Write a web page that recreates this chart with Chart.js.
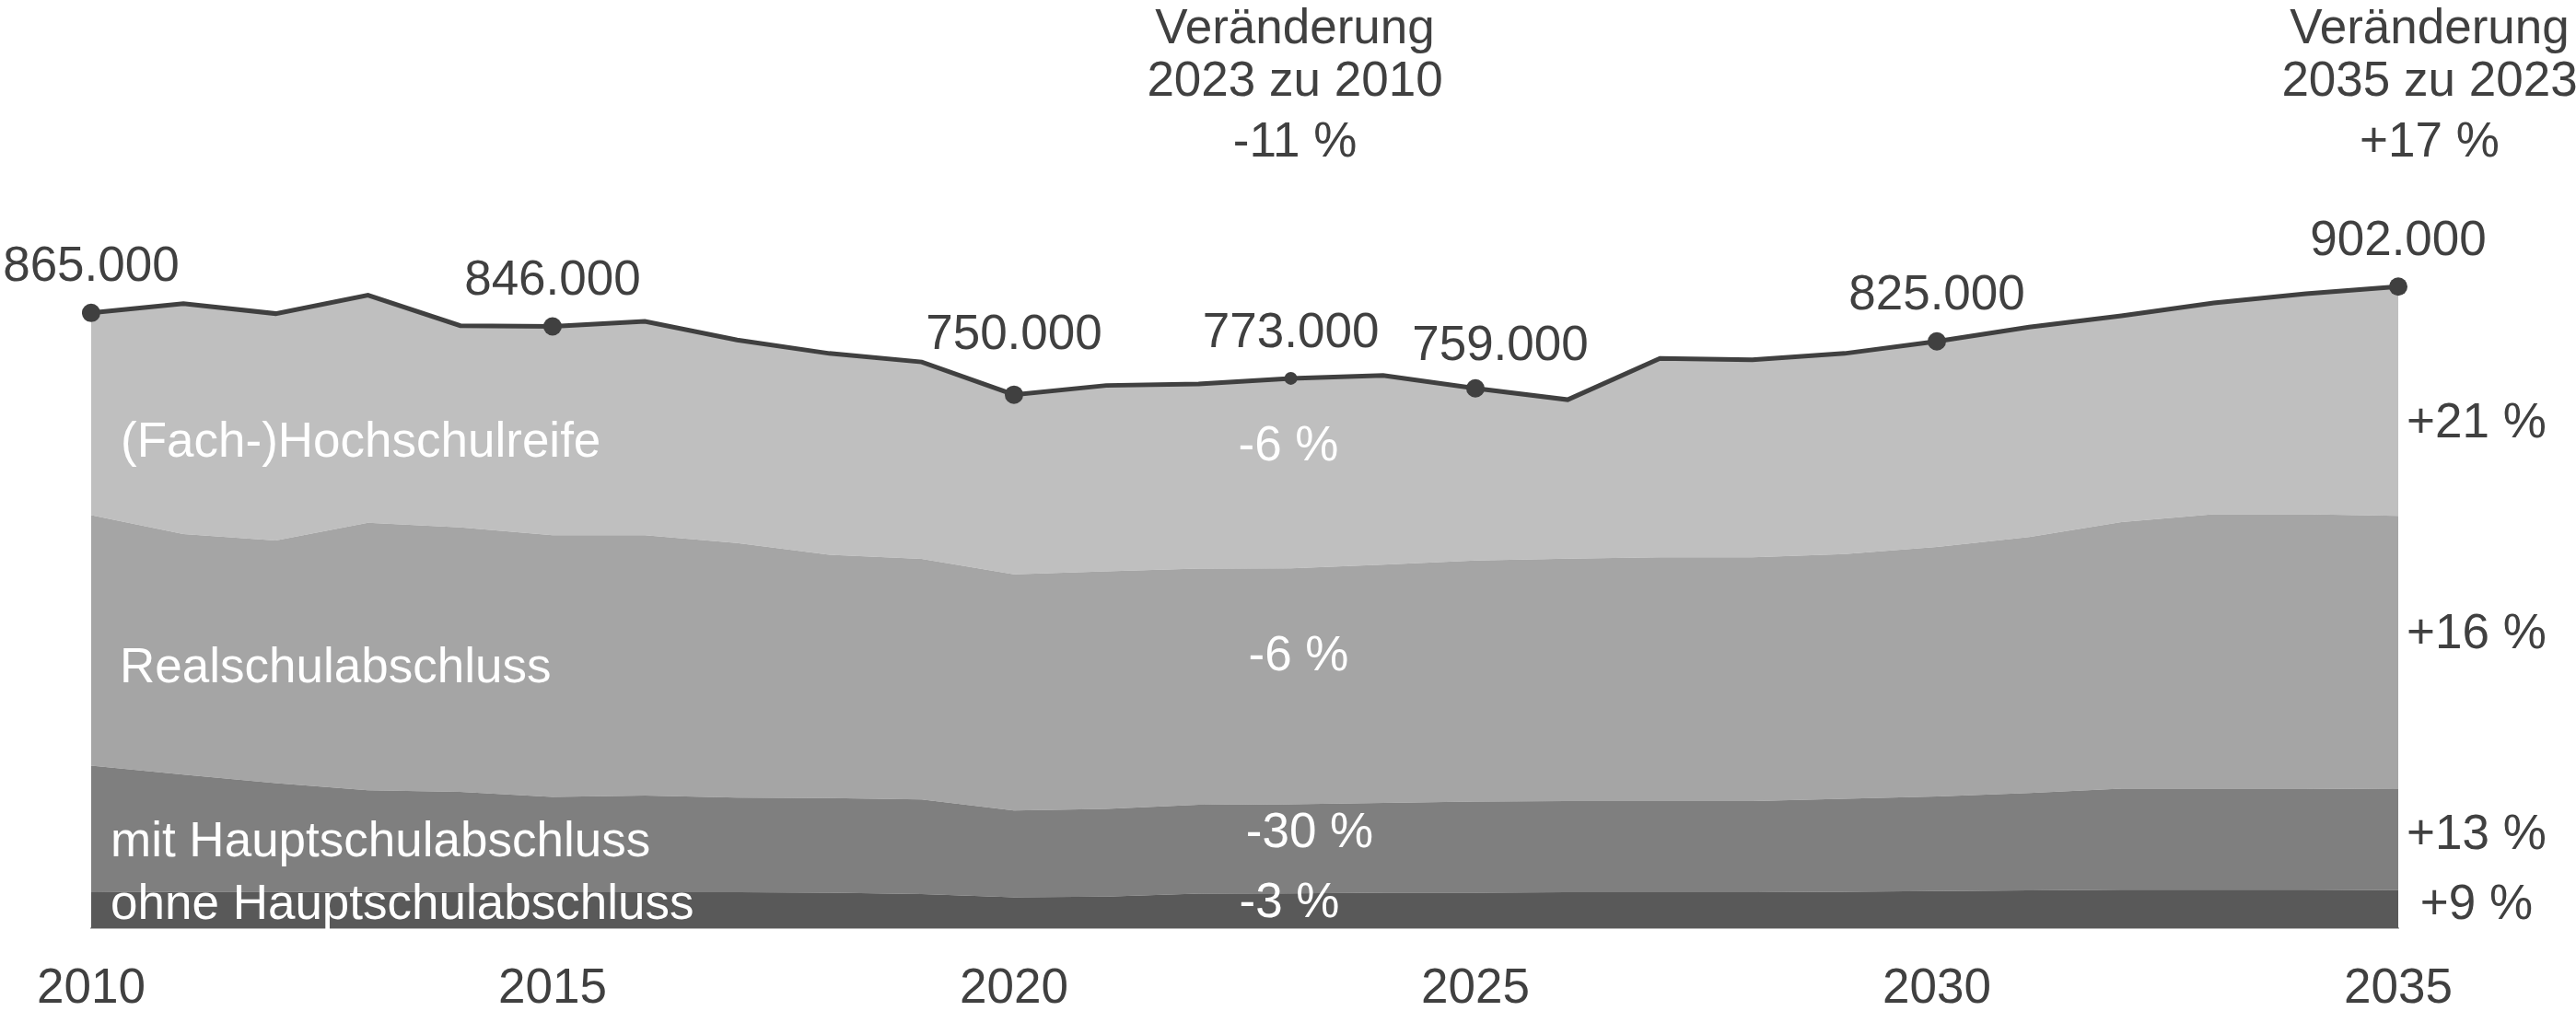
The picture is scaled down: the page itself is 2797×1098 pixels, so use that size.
<!DOCTYPE html>
<html lang="de">
<head>
<meta charset="utf-8">
<script src="https://cdn.jsdelivr.net/npm/chart.js@4.4.1/dist/chart.umd.min.js"></script>
<style>
  html, body { margin: 0; padding: 0; background: #fff; }
</style>
</head>
<body>
<canvas id="myChart" width="2797" height="1098"></canvas>
<script>
// Schulabgänger nach Abschluss, in Tausend
const years = ["2010","2011","2012","2013","2014","2015","2016","2017","2018","2019","2020","2021","2022",
               "2023","2024","2025","2026","2027","2028","2029","2030","2031","2032","2033","2034","2035"];
const tickYears = ["2010","2015","2020","2025","2030","2035"];

const ohneHS = [50.5,51,51,51,50.5,50.5,50.5,50.5,50,48,43.5,44.5,48.5,49,50,50,50.5,50.5,50.5,51,52,53,54,54,54,53.5];
const mitHS  = [178,165,153,143,141,134,136,133,133,133,122,123,125,125,126,128,128,128,128,131,133,137,142,142,142,142];
const realS  = [352,338,341,376,372,368,366,358,342,338,332,334,332,332,335,339,341,343,343,344,351,360,375,386,386,384];
const hochS  = [284.5,324,319,320,283.5,293.5,300.5,285.5,283,277,252.5,261.5,259.5,267,266,242,223.5,279.5,277.5,282,289,295,290,297,310,322.5];
const gesamt = [865,878,864,890,847,846,853,827,808,796,750,763,765,773,777,759,743,801,799,808,825,845,861,879,892,902];

const markYears = ["2010","2015","2020","2023","2025","2030","2035"];
const groupNames = ["ohne Hauptschulabschluss","mit Hauptschulabschluss","Realschulabschluss","(Fach-)Hochschulreife"];
const change2023 = ["-3 %","-30 %","-6 %","-6 %"];
const change2035 = ["+9 %","+13 %","+16 %","+21 %"];
const titleLeft = ["Veränderung","2023 zu 2010","-11 %"];
const titleRight = ["Veränderung","2035 zu 2023","+17 %"];

const FONT = '"Liberation Sans", Arial, sans-serif';
const DARK = "#404040";

const texte = {
  id: "texte",
  afterDatasetsDraw(chart) {
    const ctx = chart.ctx;
    const xs = chart.scales.x, ys = chart.scales.y;
    ctx.save();
    ctx.font = "53px " + FONT;
    ctx.textBaseline = "middle";

    // Werte an der Gesamtlinie
    ctx.textAlign = "center";
    ctx.fillStyle = DARK;
    const shift = { "2020": [0, 64], "2025": [27, 45] };
    markYears.forEach(function (yr) {
      const i = years.indexOf(yr);
      const s = shift[yr] || [0, 49];
      const px = xs.getPixelForValue(i) + s[0];
      const py = ys.getPixelForValue(gesamt[i]) - s[1];
      ctx.fillText(gesamt[i] + ".000", px, py);
    });

    // Überschriften
    const ty = [32, 89, 155];
    titleLeft.forEach(function (t, k) { ctx.fillText(t, 1406, ty[k]); });
    titleRight.forEach(function (t, k) { ctx.fillText(t, 2638, ty[k]); });

    // Veränderung 2035 zu 2023, rechts
    const ry = [983, 907, 689, 460];
    change2035.forEach(function (t, k) { ctx.fillText(t, 2689, ry[k]); });

    // Veränderung 2023 zu 2010, Mitte (weiß)
    ctx.fillStyle = "#ffffff";
    const cx = [1400, 1422, 1410, 1399];
    const cy = [981, 905, 713, 485];
    change2023.forEach(function (t, k) { ctx.fillText(t, cx[k], cy[k]); });

    // Gruppennamen links
    ctx.textAlign = "left";
    const gx = [120, 120, 130, 131];
    const gy = [983, 915, 726, 481];
    groupNames.forEach(function (t, k) { ctx.fillText(t, gx[k], gy[k]); });
    ctx.restore();
  }
};

function area(label, data, color, fill) {
  return {
    label: label, data: data, stack: "anteile",
    backgroundColor: color, borderWidth: 0, pointRadius: 0,
    fill: fill, tension: 0, order: 2
  };
}

new Chart("myChart", {
  type: "line",
  data: {
    labels: years,
    datasets: [
      area(groupNames[0], ohneHS, "#595959", "origin"),
      area(groupNames[1], mitHS, "#7f7f7f", "-1"),
      area(groupNames[2], realS, "#a5a5a5", "-1"),
      area(groupNames[3], hochS, "#bfbfbf", "-1"),
      {
        label: "insgesamt", data: gesamt, stack: "gesamt",
        borderColor: DARK, borderWidth: 5, fill: false, tension: 0, order: 1,
        pointBackgroundColor: DARK, pointBorderWidth: 0,
        pointRadius: function (c) {
          const yr = years[c.dataIndex];
          if (!markYears.includes(yr)) return 0;
          return yr === "2023" ? 7 : 10;
        }
      }
    ]
  },
  options: {
    responsive: false,
    animation: false,
    devicePixelRatio: 1,
    layout: { padding: { left: 98, right: 193, top: 0, bottom: 0 } },
    plugins: { legend: { display: false }, tooltip: { enabled: false } },
    scales: {
      x: {
        offset: false,
        afterFit: function (scale) { scale.height = 90; },
        grid: { display: false, drawTicks: false, tickLength: 0 },
        border: { display: true, color: "#b4b4b4", width: 2 },
        ticks: {
          autoSkip: false, maxRotation: 0, padding: 40, color: DARK,
          font: { size: 53, family: FONT, lineHeight: 1 },
          callback: function (v, i) { return tickYears.includes(years[i]) ? years[i] : ""; }
        }
      },
      y: { display: false, stacked: true, min: 0, max: 1292 }
    }
  },
  plugins: [texte]
});
</script>
</body>
</html>
